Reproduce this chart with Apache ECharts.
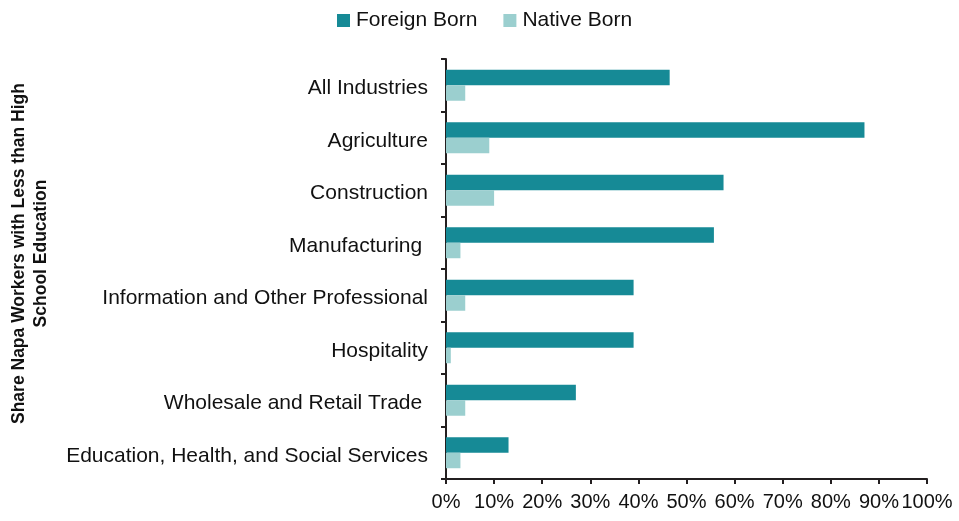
<!DOCTYPE html>
<html><head><meta charset="utf-8">
<script src="https://cdn.jsdelivr.net/npm/echarts@6/dist/echarts.min.js"></script>
<style>html,body{margin:0;padding:0;background:#fff}#c{width:959px;height:521px}</style>
</head><body><div id="c"></div>
<script>
const categories = ["All Industries","Agriculture","Construction","Manufacturing ","Information and Other Professional","Hospitality","Wholesale and Retail Trade ","Education, Health, and Social Services"];
const foreignBorn = [46.5, 87, 57.7, 55.7, 39, 39, 27, 13];
const nativeBorn = [4, 9, 10, 3, 4, 1, 4, 3];
const xTicks = [0,10,20,30,40,50,60,70,80,90,100];
const seriesNames = ["Foreign Born","Native Born"];
const yTitle = "Share Napa Workers with Less than High\nSchool Education";

const font = "'Liberation Sans', Arial, sans-serif";
const chart = echarts.init(document.getElementById('c'));
chart.setOption({
  animation:false,
  textStyle:{fontFamily:font},
  legend:{
    top:5, left:332, itemWidth:13, itemHeight:13, itemGap:26,
    icon:'rect',
    textStyle:{fontSize:21, color:'#111', fontFamily:font, padding:[0,0,0,1]},
    data:seriesNames
  },
  grid:{left:446, right:32, top:59, bottom:42},
  xAxis:{
    type:'value', min:xTicks[0], max:xTicks[xTicks.length-1], interval:10,
    axisLine:{show:true, lineStyle:{color:'#231f20', width:2}},
    axisTick:{show:true, length:5, lineStyle:{color:'#231f20', width:2}},
    splitLine:{show:false},
    axisLabel:{formatter:'{value}%', fontSize:20, color:'#111', margin:13, fontFamily:font}
  },
  yAxis:{
    type:'category', data:categories, inverse:true,
    axisLine:{show:true, lineStyle:{color:'#231f20', width:2}},
    axisTick:{show:true, length:5, lineStyle:{color:'#231f20', width:2}},
    axisLabel:{
      margin:18,
      formatter:function(v){ return '{a|' + v + '}'; },
      rich:{a:{fontSize:21, color:'#111', fontFamily:font, padding:[6,0,0,0]}}
    }
  },
  graphic:[{
    type:'text', left:8, top:83, rotation:Math.PI/2,
    style:{text:yTitle, font:"bold 17.5px 'Liberation Sans', Arial, sans-serif", fill:'#111', textAlign:'center', lineHeight:22}
  }],
  series:[
    {name:seriesNames[0], type:'bar', data:foreignBorn, barGap:'0%', barCategoryGap:'41%',
     itemStyle:{color:'#168a96'}},
    {name:seriesNames[1], type:'bar', data:nativeBorn, barGap:'0%', barCategoryGap:'41%',
     itemStyle:{color:'#9bcfcf'}}
  ]
});
</script></body></html>
